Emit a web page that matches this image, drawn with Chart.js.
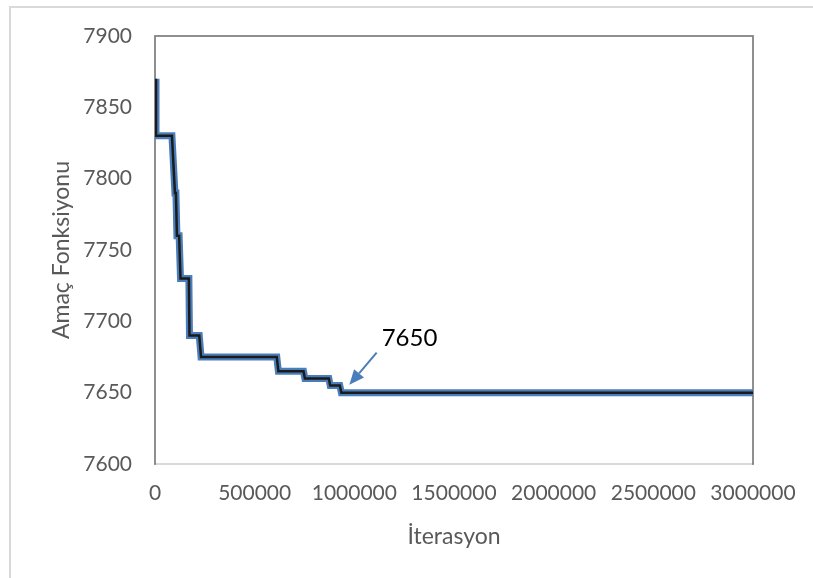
<!DOCTYPE html>
<html lang="tr">
<head>
  <meta charset="UTF-8" />
  <title>Amaç Fonksiyonu</title>
  <script src="https://cdn.jsdelivr.net/npm/chart.js"></script>
  <style>
    html, body { margin: 0; padding: 0; background: #fff; overflow: hidden; }
    .wrap { position: relative; width: 813px; height: 578px; }
    .frame { position: absolute; left: 9px; top: 6px; width: 820px; height: 590px; border: 2px solid #d9d9d9; box-sizing: border-box; pointer-events: none; }
  </style>
</head>
<body>
  <div class="wrap">
    <canvas id="chart" width="813" height="578"></canvas>
    <div class="frame"></div>
  </div>

  <script>
    // best objective value found vs. iteration
    const iterations = [0, 5000, 85000, 100000, 105000, 110000, 121000, 128000, 170000, 173000,
      222000, 231000, 611000, 619000, 745000, 752000, 872000, 879000, 927000, 935000, 3000000];
    const objective = [7870, 7830, 7830, 7790, 7790, 7760, 7760, 7730, 7730, 7690,
      7690, 7675, 7675, 7665, 7665, 7660, 7660, 7655, 7655, 7650, 7650];

    const xTicks = [0, 500000, 1000000, 1500000, 2000000, 2500000, 3000000];
    const yTicks = [7600, 7650, 7700, 7750, 7800, 7850, 7900];

    // callout: label and arrow (tail -> tip) in data units
    const calloutText = "7650";
    const calloutLabelAt = [1137000, 7683];
    const calloutArrow = [[1112000, 7678], [975000, 7655.5]];

    const points = iterations.map((x, i) => ({ x: x, y: objective[i] }));

    const plotFrame = {
      id: "plotFrame",
      beforeDatasetsDraw(chart) {
        const { ctx, chartArea: a } = chart;
        ctx.save();
        ctx.strokeStyle = "#808080";
        ctx.lineWidth = 1.75;
        ctx.strokeRect(a.left, a.top, a.right - a.left, a.bottom - a.top);
        ctx.restore();
        // light bottom axis line on top of the frame
        ctx.save();
        ctx.strokeStyle = "#d9d9d9";
        ctx.lineWidth = 2;
        ctx.beginPath();
        ctx.moveTo(a.left + 1, a.bottom);
        ctx.lineTo(a.right - 1, a.bottom);
        ctx.stroke();
        ctx.restore();
      }
    };

    const callout = {
      id: "callout",
      afterDatasetsDraw(chart) {
        const { ctx, scales: { x, y } } = chart;
        const x0 = x.getPixelForValue(calloutArrow[0][0]);
        const y0 = y.getPixelForValue(calloutArrow[0][1]);
        const x1 = x.getPixelForValue(calloutArrow[1][0]);
        const y1 = y.getPixelForValue(calloutArrow[1][1]);
        const ang = Math.atan2(y1 - y0, x1 - x0);
        const head = 15, half = 6.5;
        const bx = x1 - head * Math.cos(ang), by = y1 - head * Math.sin(ang);

        ctx.save();
        ctx.strokeStyle = "#4a7ebb";
        ctx.fillStyle = "#4a7ebb";
        ctx.lineWidth = 2;
        ctx.beginPath();
        ctx.moveTo(x0, y0);
        ctx.lineTo(bx, by);
        ctx.stroke();
        ctx.beginPath();
        ctx.moveTo(x1, y1);
        ctx.lineTo(bx + half * Math.sin(ang), by - half * Math.cos(ang));
        ctx.lineTo(bx - half * Math.sin(ang), by + half * Math.cos(ang));
        ctx.closePath();
        ctx.fill();

        ctx.fillStyle = "#000";
        ctx.font = "24px Lato";
        ctx.textAlign = "left";
        ctx.textBaseline = "alphabetic";
        ctx.fillText(calloutText, x.getPixelForValue(calloutLabelAt[0]), y.getPixelForValue(calloutLabelAt[1]));
        ctx.restore();
      }
    };

    const tickFont = { family: "Lato", size: 21 };
    const titleFont = { family: "Lato", size: 23 };

    new Chart(document.getElementById("chart"), {
      type: "line",
      data: {
        datasets: [
          {
            data: points,
            borderColor: "#1b1b1b",
            borderWidth: 2.5,
            pointRadius: 0,
            tension: 0,
            order: 0
          },
          {
            data: points,
            borderColor: "#4a7ebb",
            borderWidth: 7,
            pointRadius: 0,
            tension: 0,
            order: 1
          }
        ]
      },
      options: {
        responsive: false,
        animation: false,
        layout: { padding: { left: 40, top: 36, right: 60, bottom: 20 } },
        plugins: {
          legend: { display: false },
          tooltip: { enabled: false }
        },
        scales: {
          x: {
            type: "linear",
            min: xTicks[0],
            max: xTicks[xTicks.length - 1],
            afterBuildTicks: s => { s.ticks = xTicks.map(v => ({ value: v })); },
            afterFit: s => { s.height = 94; },
            grid: { display: false, drawTicks: false },
            border: { display: false },
            ticks: {
              color: "#595959",
              font: tickFont,
              padding: 17,
              maxRotation: 0,
              callback: v => String(v)
            },
            title: {
              display: true,
              text: "İterasyon",
              color: "#595959",
              font: titleFont,
              padding: { top: 0, bottom: 8 }
            }
          },
          y: {
            min: yTicks[0],
            max: yTicks[yTicks.length - 1],
            afterBuildTicks: s => { s.ticks = yTicks.map(v => ({ value: v })); },
            afterFit: s => { s.width = 115; },
            grid: { display: false, drawTicks: false },
            border: { display: false },
            ticks: {
              color: "#595959",
              font: tickFont,
              padding: 23,
              callback: v => String(v)
            },
            title: {
              display: true,
              text: "Amaç Fonksiyonu",
              color: "#595959",
              font: titleFont,
              padding: { top: 8, bottom: 0 }
            }
          }
        }
      },
      plugins: [plotFrame, callout]
    });
  </script>
</body>
</html>
